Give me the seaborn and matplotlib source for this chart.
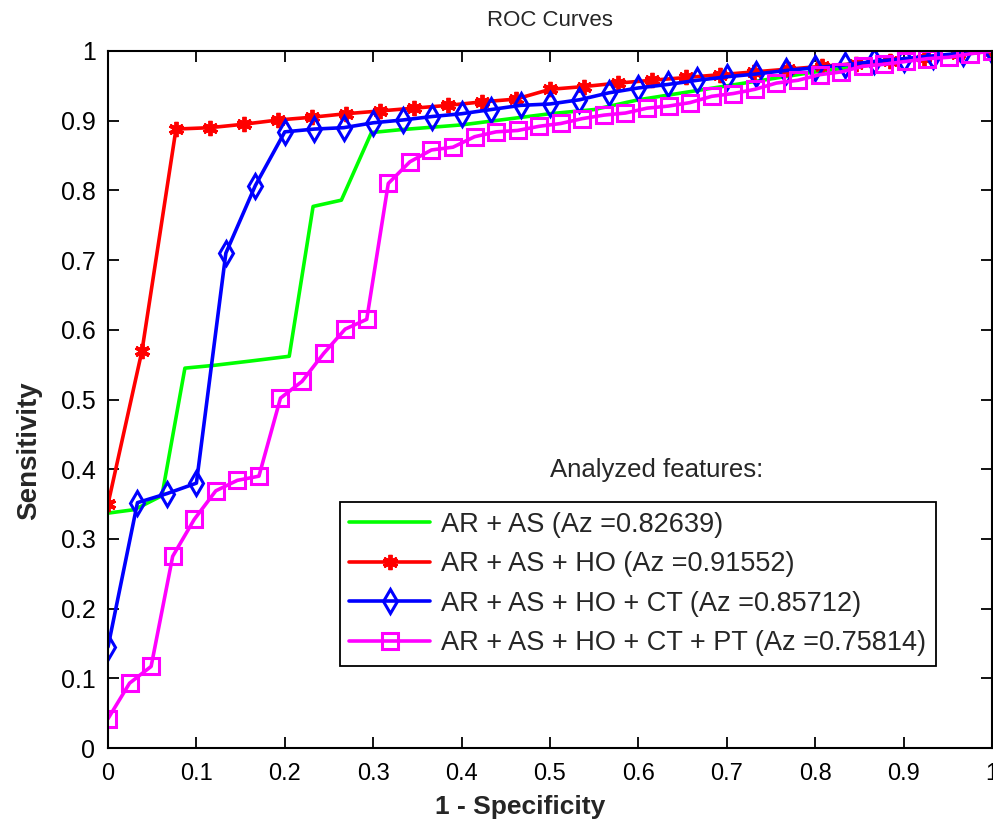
import numpy as np
import pandas as pd
import matplotlib
matplotlib.use("Agg")
import matplotlib.pyplot as plt
import seaborn as sns
from matplotlib import font_manager as fm

# ---------------- data ----------------
green_x = [0.0, 0.03, 0.061, 0.087, 0.12, 0.16, 0.205, 0.232, 0.264, 0.298, 0.33,
           0.4, 0.5, 0.55, 0.6, 0.7, 0.8, 0.9, 1.0]
green_y = [0.337, 0.342, 0.362, 0.545, 0.549, 0.555, 0.562, 0.777, 0.786, 0.883, 0.887,
           0.894, 0.910, 0.916, 0.930, 0.950, 0.970, 0.986, 1.0]

red_x = [i / 26 for i in range(27)]
red_y = [0.35, 0.57, 0.888, 0.890, 0.895, 0.901, 0.905, 0.910, 0.914, 0.918, 0.922,
         0.927, 0.931, 0.945, 0.949, 0.954, 0.958, 0.962, 0.966, 0.970, 0.974,
         0.978, 0.982, 0.986, 0.990, 0.995, 1.0]

blue_x = [i / 30 for i in range(31)]
blue_y = [0.145, 0.352, 0.365, 0.380, 0.710, 0.807, 0.884, 0.888, 0.890, 0.897,
          0.901, 0.906, 0.910, 0.916, 0.922, 0.924, 0.930, 0.940, 0.947, 0.952,
          0.958, 0.963, 0.967, 0.972, 0.976, 0.980, 0.985, 0.989, 0.993, 0.997, 1.0]

mag_x = [i / 41 for i in range(42)]
mag_y = [0.042, 0.093, 0.117, 0.275, 0.328, 0.369, 0.384, 0.390, 0.502, 0.526,
         0.566, 0.601, 0.615, 0.810, 0.841, 0.858, 0.862, 0.877, 0.884, 0.886,
         0.892, 0.896, 0.903, 0.908, 0.911, 0.918, 0.921, 0.926, 0.935, 0.939,
         0.945, 0.954, 0.958, 0.966, 0.970, 0.978, 0.981, 0.985, 0.989, 0.991,
         0.996, 1.0]

labels = ["AR + AS (Az =0.82639)",
          "AR + AS + HO (Az =0.91552)",
          "AR + AS + HO + CT (Az =0.85712)",
          "AR + AS + HO + CT + PT (Az =0.75814)"]
tick_vals = [0, 0.1, 0.2, 0.3, 0.4, 0.5, 0.6, 0.7, 0.8, 0.9, 1]
tick_labels = ["0", "0.1", "0.2", "0.3", "0.4", "0.5", "0.6", "0.7", "0.8", "0.9", "1"]

# ---------------- style ----------------
sns.set_style("white")
names = {f.name for f in fm.fontManager.ttflist}
base = "Liberation Sans" if "Liberation Sans" in names else "DejaVu Sans"
narrow = "Liberation Sans Narrow" if "Liberation Sans Narrow" in names else base
plt.rcParams["font.family"] = [base, "DejaVu Sans"]

fig = plt.figure(figsize=(9.93, 8.24), dpi=100)
ax = fig.add_axes([108 / 993, 76 / 824, 884 / 993, 697 / 824])

lw = 2.6
sns.lineplot(x=green_x, y=green_y, ax=ax, color="#00ff00", lw=lw, sort=False,
             estimator=None, label=labels[0])
sns.lineplot(x=red_x, y=red_y, ax=ax, color="#ff0000", lw=lw, sort=False,
             estimator=None, marker=(6, 2, 0), markersize=11, mew=2.8,
             mec="#ff0000", label=labels[1])
sns.lineplot(x=blue_x, y=blue_y, ax=ax, color="#0000ff", lw=lw, sort=False,
             estimator=None, marker="d", markersize=12, mfc="none", mew=2.2,
             mec="#0000ff", label=labels[2])
sns.lineplot(x=mag_x, y=mag_y, ax=ax, color="#ff00ff", lw=lw, sort=False,
             estimator=None, marker="s", markersize=12, mfc="none", mew=2.2,
             mec="#ff00ff", label=labels[3])

ax.set_xlim(0, 1)
ax.set_ylim(0, 1)
ax.set_xticks(tick_vals)
ax.set_xticklabels(tick_labels, fontfamily=[narrow, "DejaVu Sans"], fontsize=17)
ax.set_yticks(tick_vals)
ax.set_yticklabels(tick_labels, fontsize=18)
ax.tick_params(direction="in", length=8, width=1.3, top=True, right=True,
               bottom=True, left=True, colors="black", pad=9)
ax.tick_params(axis="x", pad=11)
for s in ax.spines.values():
    s.set_visible(True)
    s.set_color("black")
    s.set_linewidth(1.5)

ax.set_title("ROC Curves", fontfamily=[narrow, "DejaVu Sans"], fontsize=16, pad=18)
ax.set_xlabel("1 - Specificity", fontfamily=[narrow, "DejaVu Sans"], fontsize=19,
              fontweight="bold", labelpad=6)
ax.xaxis.set_label_coords(0.466, -0.067)
ax.set_ylabel("Sensitivity", fontsize=20, fontweight="bold", labelpad=14)
ax.yaxis.set_label_coords(-0.075, 0.426)

ax.text(0.621, 0.399, "Analyzed features:", transform=ax.transAxes,
        ha="center", va="center", fontsize=18.5)

leg = ax.legend(loc="lower left", bbox_to_anchor=(0.262, 0.118), fontsize=19.5,
                frameon=True, fancybox=False, framealpha=1, edgecolor="black",
                handlelength=3.0, handletextpad=0.4, labelspacing=0.5,
                borderpad=0.35, borderaxespad=0)
leg.get_frame().set_linewidth(1.3)

fig.savefig("out.png", dpi=100, facecolor="white")
